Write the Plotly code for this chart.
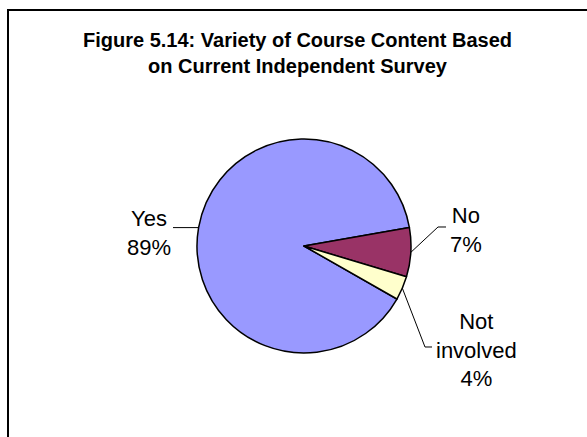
import math
import plotly.graph_objects as go

# ---- data ----
categories = ["Yes", "No", "Not involved"]
shares = [89.0, 7.4, 3.6]
colors = ["#9999FF", "#993366", "#FFFFCC"]
title_lines = ["Figure 5.14: Variety of Course Content Based", "on Current Independent Survey"]
label_lines = [["Yes"], ["No"], ["Not", "involved"]]

# ---- layout constants (pixels) ----
W, H = 587, 437
CX, CY, R = 304, 246, 107
START = 119.7  # degrees clockwise from 12 o'clock where the first slice starts
FONT = "Arial, Liberation Sans, sans-serif"

# leader routes after leaving the pie edge, and label centres
leader_bends = [[(173, None)], [(438, 227), (446, 227)], [(425, 347), (432, 347)]]
label_centres = [(149, 232.8), (466, 230), (476, 350)]


def px(x):
    return x / W


def py(y):
    return 1 - y / H


fig = go.Figure()
fig.add_trace(go.Pie(
    labels=categories,
    values=shares,
    sort=False,
    direction="clockwise",
    rotation=START,
    marker=dict(colors=colors, line=dict(color="black", width=1.5)),
    textinfo="none",
    hoverinfo="label+percent",
    showlegend=False,
    domain=dict(x=[px(CX - R), px(CX + R)], y=[py(CY + R), py(CY - R)]),
))

total = sum(shares)
cum = 0.0
shapes = []
annotations = []
for i, v in enumerate(shares):
    mid = START + (cum + v / 2) / total * 360
    cum += v
    ex = CX + R * math.sin(math.radians(mid))
    ey = CY - R * math.cos(math.radians(mid))
    pts = [(ex, ey)]
    for bx, by in leader_bends[i]:
        pts.append((bx, ey if by is None else by))
    path = "M " + " L ".join(f"{px(a):.5f},{py(b):.5f}" for a, b in pts)
    shapes.append(dict(type="path", path=path, xref="paper", yref="paper",
                       line=dict(color="black", width=1)))
    pct = f"{round(v / total * 100)}%"
    text = "<br>".join(label_lines[i] + [pct])
    lx, ly = label_centres[i]
    annotations.append(dict(text=text, x=px(lx), y=py(ly), xref="paper", yref="paper",
                            xanchor="center", yanchor="middle", showarrow=False,
                            align="center", font=dict(family=FONT, size=22, color="black")))

annotations.append(dict(text="<b>" + "<br>".join(title_lines) + "</b>",
                        x=px(298), y=py(52.7), xref="paper", yref="paper",
                        xanchor="center", yanchor="middle", showarrow=False,
                        align="center", font=dict(family=FONT, size=20, color="black")))

# chart-area frame (left and top edges visible, rest runs off the picture)
shapes.append(dict(type="rect", xref="paper", yref="paper",
                   x0=px(8), x1=px(W + 5), y0=py(H + 5), y1=py(10),
                   line=dict(color="black", width=2)))

fig.update_layout(
    width=W, height=H,
    margin=dict(l=0, r=0, t=0, b=0),
    paper_bgcolor="white", plot_bgcolor="white",
    shapes=shapes, annotations=annotations,
)

fig.write_html("out.html",
               config={"displayModeBar": False},
               post_script="document.body.style.margin='0';document.body.style.overflow='hidden';")
